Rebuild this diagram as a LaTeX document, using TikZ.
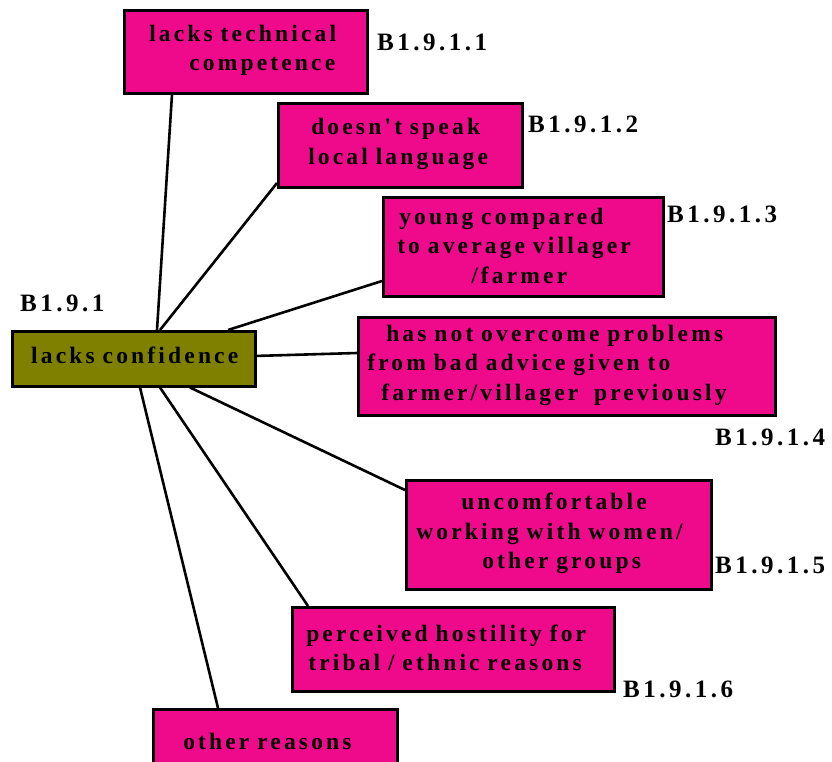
\documentclass[tikz,border=0pt]{standalone}
\usepackage{fontspec}
\usetikzlibrary{calc}
\newfontfamily\boxfont{Liberation Serif}[LetterSpace=13.5, WordSpace=1.9]
\newfontfamily\codefont{Liberation Serif}[LetterSpace=14]
\definecolor{idea}{RGB}{238,10,138}
\definecolor{mainidea}{RGB}{128,128,0}
\tikzset{
  boxbase/.style={draw=black, line width=2.5pt, inner xsep=0pt, inner ysep=0pt,
    anchor=north west, align=left,
    font=\boxfont\bfseries\fontsize{23.5}{29.5}\selectfont},
  boxed/.style={boxbase, fill=idea, execute at end node={\vspace*{2.5pt}}},
  rootbox/.style={boxbase, fill=mainidea, execute at end node={\vspace*{7pt}}},
  code/.style={anchor=base west, inner sep=0pt,
    font=\codefont\bfseries\fontsize{25}{28}\selectfont},
  link/.style={draw=black, line width=2.6pt}
}
\begin{document}
\begin{tikzpicture}[x=1pt, y=-1pt]
\useasboundingbox (0,0) rectangle (832,761);

% central idea
\node[rootbox, text width=243pt, minimum height=55pt] (root) at (11,330)
  {\hspace*{19pt}lacks confidence};

% sub-ideas
\node[boxed, text width=243pt, minimum height=83pt] (b1) at (123,9)
  {\hspace*{25pt}lacks technical\\ \hspace*{65pt}competence};
\node[boxed, text width=244pt, minimum height=84pt] (b2) at (277,102)
  {\hspace*{33pt}doesn't speak\\ \hspace*{30pt}local language};
\node[boxed, text width=280pt, minimum height=99pt] (b3) at (382,196)
  {\hspace*{16pt}young compared\\ \hspace*{14pt}to average villager\\ \hspace*{88pt}/farmer};
\node[boxed, text width=417pt, minimum height=98pt] (b4) at (357,316)
  {\hspace*{28pt}has not overcome problems\\ \hspace*{9pt}from bad advice given to\\ \hspace*{23pt}farmer/villager\ \ previously};
\node[boxed, text width=305pt, minimum height=109pt] (b5) at (405,479)
  {\hspace*{55pt}uncomfortable\\ \hspace*{10pt}working with women/\\ \hspace*{76pt}other groups};
\node[boxed, text width=322pt, minimum height=84pt] (b6) at (291,606)
  {\hspace*{14pt}perceived hostility for\\ \hspace*{16pt}tribal / ethnic reasons};
\node[boxed, text width=244pt, minimum height=66pt] (b7) at (152,708)
  {\hspace*{30pt}other reasons};

% outline codes
\node[code] (c0) at (20,311) {B1.9.1};
\node[code] (c1) at (377,50) {B1.9.1.1};
\node[code] (c2) at (528,132) {B1.9.1.2};
\node[code] (c3) at (667,222) {B1.9.1.3};
\node[code] (c4) at (715,445) {B1.9.1.4};
\node[code] (c5) at (715,573) {B1.9.1.5};
\node[code] (c6) at (623,697) {B1.9.1.6};

% links from the central idea
\draw[link] ($(root.north west)+(146,0)$) -- ($(b1.south west)+(49,0)$);
\draw[link] ($(root.north west)+(149,0)$) -- ($(b2.north west)+(0,81)$);
\draw[link] ($(root.north west)+(217,0)$) -- ($(b3.north west)+(0,85)$);
\draw[link] ($(root.north west)+(243,26)$) -- ($(b4.north west)+(0,37)$);
\draw[link] ($(root.south west)+(179,0)$) -- ($(b5.north west)+(0,11)$);
\draw[link] ($(root.south west)+(149,0)$) -- ($(b6.north west)+(17,0)$);
\draw[link] ($(root.south west)+(129,0)$) -- ($(b7.north west)+(66,0)$);
\end{tikzpicture}
\end{document}
